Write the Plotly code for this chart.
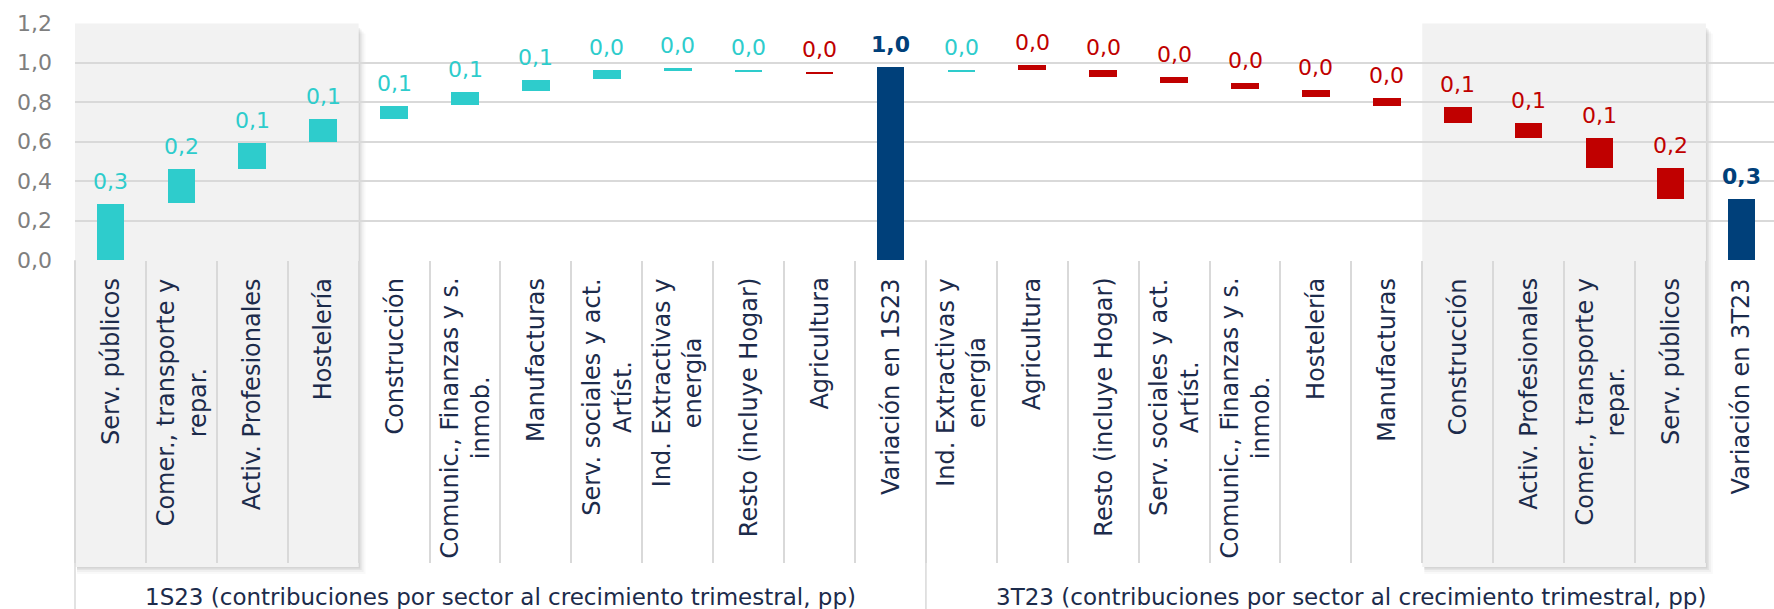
import plotly.graph_objects as go

# --- Datos: contribuciones por sector al crecimiento trimestral (pp) ---
sectores_1S23 = [
    "Serv. públicos", "Comer., transporte y<br>repar.", "Activ. Profesionales",
    "Hostelería", "Construcción", "Comunic., Finanzas y s.<br>inmob.", "Manufacturas",
    "Serv. sociales y act.<br>Artíst.", "Ind. Extractivas y<br>energía",
    "Resto (incluye Hogar)", "Agricultura",
]
aporte_1S23 = [0.286, 0.172, 0.133, 0.113, 0.067, 0.069, 0.054, 0.044, 0.010, 0.007, -0.010]
inicio_1S23 = [0.0, 0.287, 0.461, 0.599, 0.714, 0.784, 0.857, 0.916, 0.960, 0.953, 0.951]
etiqueta_total_1S23 = "Variación en 1S23"
variacion_1S23 = 0.978

sectores_3T23 = [
    "Ind. Extractivas y<br>energía", "Agricultura", "Resto (incluye Hogar)",
    "Serv. sociales y act.<br>Artíst.", "Comunic., Finanzas y s.<br>inmob.", "Hostelería",
    "Manufacturas", "Construcción", "Activ. Profesionales",
    "Comer., transporte y<br>repar.", "Serv. públicos",
]
aporte_3T23 = [0.008, -0.025, -0.034, -0.031, -0.030, -0.037, -0.043, -0.083, -0.076, -0.148, -0.157]
inicio_3T23 = [0.953, 0.985, 0.960, 0.926, 0.894, 0.860, 0.821, 0.776, 0.692, 0.616, 0.468]
etiqueta_total_3T23 = "Variación en 3T23"
variacion_3T23 = 0.31

grupos = [
    "1S23 (contribuciones por sector al crecimiento trimestral, pp)",
    "3T23 (contribuciones por sector al crecimiento trimestral, pp)",
]
y_ticks = [0.0, 0.2, 0.4, 0.6, 0.8, 1.0, 1.2]

# --- Estilo ---
FONT = "DejaVu Sans"
TEAL = "#2ECCCC"
ROJO = "#C00000"
AZUL = "#00407A"
TEXTO = "#1C2B4B"
GRIS_EJE = "#7F7F7F"
REJILLA = "#D9D9D9"
SOMBREADO = "#F2F2F2"

W, H = 1774, 609
M_L, M_R, M_T, M_B = 75, 0, 23, 349
PH = H - M_T - M_B
X_RANGE = [-0.5, 23.46]
Y_RANGE = [0, 1.2]


def paper_x(xd):
    return (xd - X_RANGE[0]) / (X_RANGE[1] - X_RANGE[0])


def paper_y_px(p):
    # p: pixels from the top of the figure
    return (H - M_B - p) / PH


# --- Serie completa ---
categorias = sectores_1S23 + [etiqueta_total_1S23] + sectores_3T23 + [etiqueta_total_3T23]
aportes = aporte_1S23 + [variacion_1S23] + aporte_3T23 + [variacion_3T23]
bases = inicio_1S23 + [0.0] + inicio_3T23 + [0.0]
es_total = [False] * len(sectores_1S23) + [True] + [False] * len(sectores_3T23) + [True]
idx = list(range(len(categorias)))

fig = go.Figure()


def barras(sel, color):
    fig.add_trace(go.Bar(
        x=[idx[i] for i in sel],
        y=[aportes[i] for i in sel],
        base=[bases[i] for i in sel],
        marker=dict(color=color, line=dict(width=0)),
        width=0.39,
        showlegend=False,
        hoverinfo="skip",
    ))


barras([i for i in idx if not es_total[i] and aportes[i] >= 0], TEAL)
barras([i for i in idx if not es_total[i] and aportes[i] < 0], ROJO)
barras([i for i in idx if es_total[i]], AZUL)

anotaciones = []

# Etiquetas de valor sobre cada barra
for i in idx:
    v = aportes[i]
    tope = max(bases[i], bases[i] + v)
    if es_total[i]:
        color, peso = AZUL, "bold"
    else:
        color, peso = (TEAL if v >= 0 else ROJO), "normal"
    anotaciones.append(dict(
        x=i, y=tope, xref="x", yref="y",
        text=f"{abs(v):.1f}".replace(".", ","),
        showarrow=False, yanchor="bottom", xanchor="center", yshift=8,
        font=dict(family=FONT, size=22, color=color, weight=peso),
    ))

# Etiquetas de categoría (verticales, centradas entre líneas)
for i, c in enumerate(categorias):
    anotaciones.append(dict(
        x=i, y=paper_y_px(276), xref="x", yref="paper",
        text=c, textangle=-90, align="center",
        showarrow=False, yanchor="top", xanchor="center",
        font=dict(family=FONT, size=24, color=TEXTO),
    ))

# Títulos de grupo
n1 = len(sectores_1S23) + 1
centros = [(n1 - 1) / 2, n1 + (len(categorias) - n1 - 1) / 2]
for g, cx in zip(grupos, centros):
    anotaciones.append(dict(
        x=cx, y=paper_y_px(597), xref="x", yref="paper",
        text=g, showarrow=False, yanchor="middle", xanchor="center",
        font=dict(family=FONT, size=23, color=TEXTO),
    ))

formas = []

# Zonas sombreadas con sombra suave
for a, b in [(-0.5, 3.5), (18.5, 22.5)]:
    x0, x1 = paper_x(a), paper_x(b)
    ytop, ybot = paper_y_px(23.5), paper_y_px(567)
    dxp = 1 / (W - M_L - M_R)
    for k, op in [(7, 0.025), (5, 0.035), (3, 0.05), (1.5, 0.06)]:
        formas.append(dict(
            type="rect", xref="paper", yref="paper", layer="below",
            x0=x0 + 2 * dxp, x1=x1 + k * dxp,
            y0=ybot - k / PH, y1=ytop - (k + 3) / PH,
            fillcolor=f"rgba(0,0,0,{op})", line=dict(width=0),
        ))
    formas.append(dict(
        type="rect", xref="paper", yref="paper", layer="below",
        x0=x0, x1=x1, y0=ybot, y1=ytop,
        fillcolor=SOMBREADO, line=dict(width=0),
    ))

# Divisiones entre grupos en la zona de etiquetas
for xd in [-0.5, n1 - 0.5]:
    formas.append(dict(
        type="line", xref="paper", yref="paper",
        x0=paper_x(xd), x1=paper_x(xd), y0=0, y1=paper_y_px(H),
        line=dict(color=REJILLA, width=1.5),
    ))

fig.update_layout(
    width=W, height=H,
    margin=dict(l=M_L, r=M_R, t=M_T, b=M_B, pad=0),
    paper_bgcolor="white", plot_bgcolor="white",
    separators=",.",
    bargap=0,
    font=dict(family=FONT, color=TEXTO),
    annotations=anotaciones,
    shapes=formas,
    xaxis=dict(
        range=X_RANGE, showgrid=False, zeroline=False, showline=False,
        tickmode="array", tickvals=[i - 0.5 for i in range(len(categorias) + 1)],
        ticks="outside", ticklen=302, tickwidth=1.5, tickcolor=REJILLA,
        showticklabels=False, fixedrange=True,
    ),
    yaxis=dict(
        range=Y_RANGE, tickmode="array", tickvals=y_ticks, tickformat=".1f",
        showgrid=True, gridcolor=REJILLA, gridwidth=1.5,
        zeroline=False, showline=False, ticks="",
        ticklabelstandoff=22,
        tickfont=dict(family=FONT, size=22, color=GRIS_EJE),
        fixedrange=True,
    ),
)

fig.write_html("out.html")
